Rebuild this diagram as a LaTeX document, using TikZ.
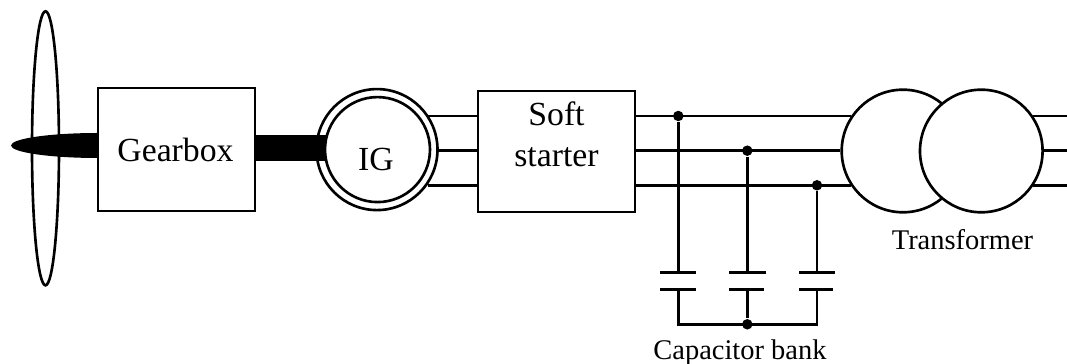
\documentclass[tikz,border=0pt]{standalone}
\usepackage{fontspec}
\setmainfont{Liberation Serif}
\usetikzlibrary{shapes.geometric}
\tikzset{
  wire/.style={line width=0.75pt},
  box/.style={draw,wire,fill=white,rectangle,inner sep=0pt,align=center,font=\fontsize{9.6}{11.7}\selectfont},
  ring/.style={draw,wire,fill=white,circle,inner sep=0pt},
  joint/.style={fill=black,circle,inner sep=0pt,minimum size=0.105cm},
  caption/.style={anchor=base,inner sep=0pt,font=\fontsize{8.1}{10}\selectfont}
}
\begin{document}
\begin{tikzpicture}
  \useasboundingbox (0,0) rectangle (10.67,3.64);

  % Rotor
  \node[ellipse,draw,wire,fill=white,inner sep=0pt,minimum width=0.27cm,minimum height=2.74cm] (blade) at (0.455,2.157) {};
  \fill (0.98,2.31) arc[start angle=90,end angle=270,x radius=0.87,y radius=0.125] -- cycle;

  % Gearbox
  \node[box,minimum width=1.57cm,minimum height=1.23cm] (gearbox) at (1.765,2.145) {};
  \node[box,draw=none,fill=none,anchor=base] (gearlabel) at (1.755,2.02) {Gearbox};

  % Generator
  \node[ring,minimum size=1.21cm] (igout) at (3.77,2.144) {};
  \fill (gearbox.east |- 0,2.29) rectangle (3.30,2.03);
  \node[ring,minimum size=1.05cm] (ig) at (3.775,2.144) {};
  \node[box,draw=none,fill=none,anchor=base] (iglabel) at (3.76,1.93) {IG};

  % Soft starter
  \node[box,minimum width=1.57cm,minimum height=1.21cm] (starter) at (5.565,2.125) {};
  \node[box,draw=none,fill=none] (startlabel) at (5.565,2.30) {Soft\\starter};

  % Transformer
  \node[ring,minimum size=1.226cm] (trleft) at (9.03,2.13) {};
  \node[ring,minimum size=1.226cm] (trright) at (9.813,2.13) {};
  \node[caption] (trlabel) at (9.625,1.143) {Transformer};

  % Three phases
  \coordinate (busa) at (10.67,2.48);
  \coordinate (busb) at (10.67,2.133);
  \coordinate (busc) at (10.67,1.787);
  \draw[wire] (igout.35 |- busa) -- (starter.west |- busa);
  \draw[wire] (igout.east |- busb) -- (starter.west |- busb);
  \draw[wire] (igout.-35 |- busc) -- (starter.west |- busc);
  \draw[wire] (starter.east |- busa) -- (trleft.146 |- busa);
  \draw[wire] (starter.east |- busb) -- (trleft.west |- busb);
  \draw[wire] (starter.east |- busc) -- (trleft.-146 |- busc);
  \draw[wire] (trright.34 |- busa) -- (busa);
  \draw[wire] (trright.east |- busb) -- (busb);
  \draw[wire] (trright.-34 |- busc) -- (busc);

  % Capacitor bank
  \node[joint] (dota) at (6.783,2.48) {};
  \node[joint] (dotb) at (7.473,2.133) {};
  \node[joint] (dotc) at (8.17,1.787) {};
  \node[joint] (dotd) at (7.473,0.397) {};
  \foreach \col/\upend/\lowend in {a/0.18/0.18,b/0.19/0.17,c/0.18/0.16} {
    \coordinate (top\col) at (dot\col |- 0,0.917);
    \coordinate (low\col) at (dot\col |- 0,0.747);
    \draw[wire] (dot\col) -- (top\col);
    \draw[wire] ([xshift=-0.18cm]top\col) -- ([xshift=\upend cm]top\col);
    \draw[wire] ([xshift=-0.18cm]low\col) -- ([xshift=\lowend cm]low\col);
  }
  \draw[wire] (lowa) -- (dota |- dotd) -- (dotc |- dotd) -- (lowc);
  \draw[wire] (lowb) -- (dotd);
  \node[caption] (caplabel) at (7.40,0.045) {Capacitor bank};
\end{tikzpicture}
\end{document}
